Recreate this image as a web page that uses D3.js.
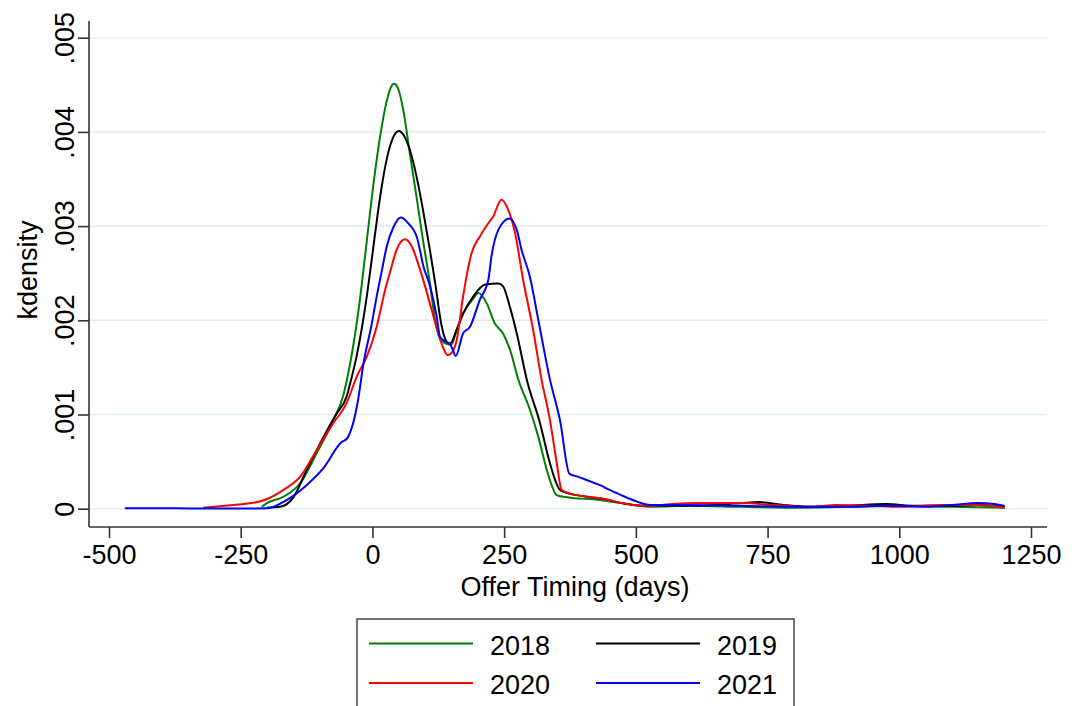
<!DOCTYPE html>
<html>
<head>
<meta charset="utf-8">
<script src="https://cdn.jsdelivr.net/npm/d3@7"></script>
<style>
  html, body { margin: 0; padding: 0; background: #fff; }
  svg { display: block; font-family: "Liberation Sans", Arial, Helvetica, sans-serif; }
</style>
</head>
<body>
<svg id="chart" width="1079" height="706"></svg>
<script>
// ---------------- data ----------------
const seriesNames = ["2018", "2019", "2020", "2021"];
const xTicks = [-500, -250, 0, 250, 500, 750, 1000, 1250];
const xTickLabels = ["-500", "-250", "0", "250", "500", "750", "1000", "1250"];
const yTicks = [0, 0.001, 0.002, 0.003, 0.004, 0.005];
const yTickLabels = ["0", ".001", ".002", ".003", ".004", ".005"];
const xTitle = "Offer Timing (days)";
const yTitle = "kdensity";

// [days, density]
const s2018 = [
  [-210,0.00002],[-201,0.000057],[-169,0.000127],[-137,0.00027],[-106,0.000588],[-74,0.00094],
  [-55,0.00121],[-43,0.00152],[-33,0.00185],[-23,0.00225],[-14,0.00268],[-4,0.00317],
  [6,0.00362],[16,0.004],[26,0.0043],[34,0.00446],[41,0.00451],[48,0.00447],[58,0.00425],
  [71,0.00377],[84,0.0033],[96,0.00285],
  [109,0.0024],[119,0.002],[131,0.00178],[150,0.00174],[160,0.0019],[172,0.00207],[190,0.00222],
  [201,0.00229],[217,0.00218],[232,0.00197],[248,0.00186],[261,0.00169],[277,0.00137],
  [299,0.00105],[315,0.00076],[331,0.00041],[350,0.000145],[362,0.000127],[432,0.000092],
  [495,0.00004],[527,0.00002],[600,0.00003],[700,0.00002],[800,0.00001],[900,0.00002],
  [1000,0.00003],[1100,0.00002],[1200,0.00001]
];
const s2019 = [
  [-200,0.00001],[-175,0.00002],[-150,0.00012],[-125,0.00041],[-93,0.00076],[-68,0.00101],
  [-49,0.00119],[-40,0.00138],[-30,0.00162],[-20,0.00192],[-10,0.00228],[0,0.0027],
  [10,0.00313],[20,0.0035],[30,0.00378],[40,0.00395],[50,0.00401],[60,0.00396],[71,0.00381],
  [84,0.00352],[96,0.00317],[109,0.00275],
  [119,0.0024],[131,0.00195],[140,0.00178],[147,0.00175],[160,0.0019],[172,0.00207],
  [191,0.00225],[214,0.00238],[239,0.00239],[248,0.00236],[261,0.00214],[274,0.00186],
  [293,0.00137],[318,0.00091],[337,0.00048],[356,0.0002],[375,0.00016],[432,0.00011],
  [495,0.00004],[530,0.00003],[600,0.00003],[650,0.00004],[700,0.00006],[735,0.00007],
  [780,0.00004],[830,0.00002],[900,0.00003],[975,0.00005],[1030,0.00003],[1100,0.00003],
  [1150,0.00004],[1200,0.00002]
];
const s2020 = [
  [-321,0.00001],[-264,0.00004],[-232,0.000057],[-201,0.0001],[-169,0.0002],[-137,0.00034],
  [-106,0.00062],[-74,0.00091],[-49,0.00112],[-30,0.0014],[-11,0.00161],[8,0.00193],
  [24,0.00232],[33,0.0025],[46,0.00275],[62,0.00286],[75,0.00278],[88,0.00258],[100,0.00236],
  [112,0.00212],[124,0.00188],[135,0.0017],[143,0.00163],[151,0.00166],[160,0.00179],[172,0.00225],
  [188,0.00271],[204,0.00289],[220,0.00303],[229,0.0031],[245,0.00328],[258,0.00317],
  [271,0.00292],[286,0.00243],[305,0.0019],[321,0.00137],[337,0.00094],[350,0.00048],
  [359,0.0002],[375,0.00016],[432,0.00011],[495,0.00004],[530,0.00003],[570,0.00005],
  [620,0.00006],[700,0.00006],[760,0.00004],[830,0.00002],[880,0.00004],[950,0.00003],
  [1000,0.00002],[1080,0.00004],[1150,0.00004],[1200,0.00001]
];
const s2021 = [
  [-470,0.000004],[-400,0.000006],[-350,0.000003],[-300,0.000002],[-250,0.000002],
  [-200,0.000005],[-163,0.000092],[-125,0.00025],[-93,0.00043],[-58,0.00071],[-49,0.00074],
  [-28,0.00113],[-17,0.00154],[-1,0.00197],[7,0.00222],[18,0.00253],[27,0.00278],
  [40,0.00299],[54,0.00309],[68,0.00303],[78,0.00296],[84,0.00289],[90,0.00275],[96,0.00259],
  [109,0.00237],[122,0.00204],[128,0.00183],[134,0.00179],[147,0.00175],[153,0.00168],
  [158,0.00162],[172,0.00186],[185,0.00193],[204,0.00222],[220,0.00243],[226,0.00268],
  [239,0.00296],[260,0.00308],[274,0.00296],[283,0.00275],[299,0.00246],[315,0.002],
  [337,0.00137],[356,0.00094],[374,0.00037],[390,0.00034],[413,0.00029],[432,0.00025],
  [450,0.0002],[470,0.00015],[500,0.00008],[527,0.00004],[600,0.00004],[700,0.00003],
  [800,0.00002],[900,0.00002],[980,0.00003],[1050,0.00002],[1100,0.00004],[1150,0.00006],
  [1180,0.00005],[1200,0.00003]
];
const seriesData = [s2018, s2019, s2020, s2021];

// ---------------- styles / layout ----------------
const lineColors = ["#008000", "#000000", "#ff0000", "#0000ff"];
const frame = { left: 89, right: 1047, top: 21, bottom: 527 };
const fontSize = 27;
const fontFamily = '"Liberation Sans", Arial, sans-serif';

const svg = d3.select("#chart");
const x = d3.scaleLinear().domain([-500, 1250]).range([109, 1031]);
const y = d3.scaleLinear().domain([0, 0.005]).range([508.7, 37.7]);

// gridlines
svg.append("g").selectAll("line").data(yTicks).join("line")
  .attr("x1", frame.left + 1).attr("x2", frame.right)
  .attr("y1", d => y(d)).attr("y2", d => y(d))
  .attr("stroke", "#e4edf0").attr("stroke-width", 1.6);

// x axis
const xAxis = d3.axisBottom(x).tickValues(xTicks).tickFormat((d, i) => xTickLabels[i])
  .tickSize(11).tickSizeOuter(0).tickPadding(7);
const gx = svg.append("g").attr("transform", `translate(0,${frame.bottom})`).call(xAxis);
gx.select(".domain").remove();
gx.append("line").attr("x1", frame.left).attr("x2", frame.right).attr("y1", 0).attr("y2", 0)
  .attr("stroke", "#333").attr("stroke-width", 1.6);
gx.selectAll(".tick line").attr("stroke", "#333").attr("stroke-width", 1.6);
gx.selectAll(".tick text").attr("font-size", fontSize).attr("fill", "#000")
  .attr("font-family", fontFamily);

// y axis
const yAxis = d3.axisLeft(y).tickValues(yTicks).tickFormat((d, i) => yTickLabels[i])
  .tickSize(11).tickSizeOuter(0).tickPadding(0);
const gy = svg.append("g").attr("transform", `translate(${frame.left},0)`).call(yAxis);
gy.select(".domain").remove();
gy.append("line").attr("x1", 0).attr("x2", 0).attr("y1", frame.top).attr("y2", frame.bottom)
  .attr("stroke", "#333").attr("stroke-width", 1.6);
gy.selectAll(".tick line").attr("stroke", "#333").attr("stroke-width", 1.6);
gy.selectAll(".tick text")
  .attr("font-size", fontSize).attr("fill", "#000")
  .attr("font-family", fontFamily)
  .attr("x", null)
  .attr("text-anchor", "middle")
  .attr("transform", "translate(-25,0) rotate(-90)")
  .attr("dy", "0.36em");

// axis titles
svg.append("text").attr("x", 575).attr("y", 596).attr("text-anchor", "middle")
  .attr("font-size", fontSize).text(xTitle);
svg.append("text").attr("transform", `translate(37,270) rotate(-90)`)
  .attr("text-anchor", "middle").attr("font-size", fontSize).text(yTitle);

// lines
const line = d3.line().x(d => x(d[0])).y(d => y(d[1])).curve(d3.curveMonotoneX);
svg.append("g").selectAll("path").data(seriesData).join("path")
  .attr("d", line).attr("fill", "none")
  .attr("stroke", (d, i) => lineColors[i]).attr("stroke-width", 2)
  .attr("stroke-linejoin", "round");

// legend
const lg = svg.append("g");
lg.append("rect").attr("x", 357).attr("y", 619).attr("width", 437).attr("height", 110)
  .attr("fill", "#fff").attr("stroke", "#444").attr("stroke-width", 1.5);
const legPos = [
  { lx: 369, tx: 490, y: 643.5 },
  { lx: 596, tx: 717, y: 643.5 },
  { lx: 369, tx: 490, y: 683 },
  { lx: 596, tx: 717, y: 683 }
];
seriesNames.forEach((name, i) => {
  const p = legPos[i];
  lg.append("line").attr("x1", p.lx).attr("x2", p.lx + 104).attr("y1", p.y).attr("y2", p.y)
    .attr("stroke", lineColors[i]).attr("stroke-width", 2);
  lg.append("text").attr("x", p.tx).attr("y", p.y + 11).attr("font-size", fontSize).text(name);
});
</script>
</body>
</html>
